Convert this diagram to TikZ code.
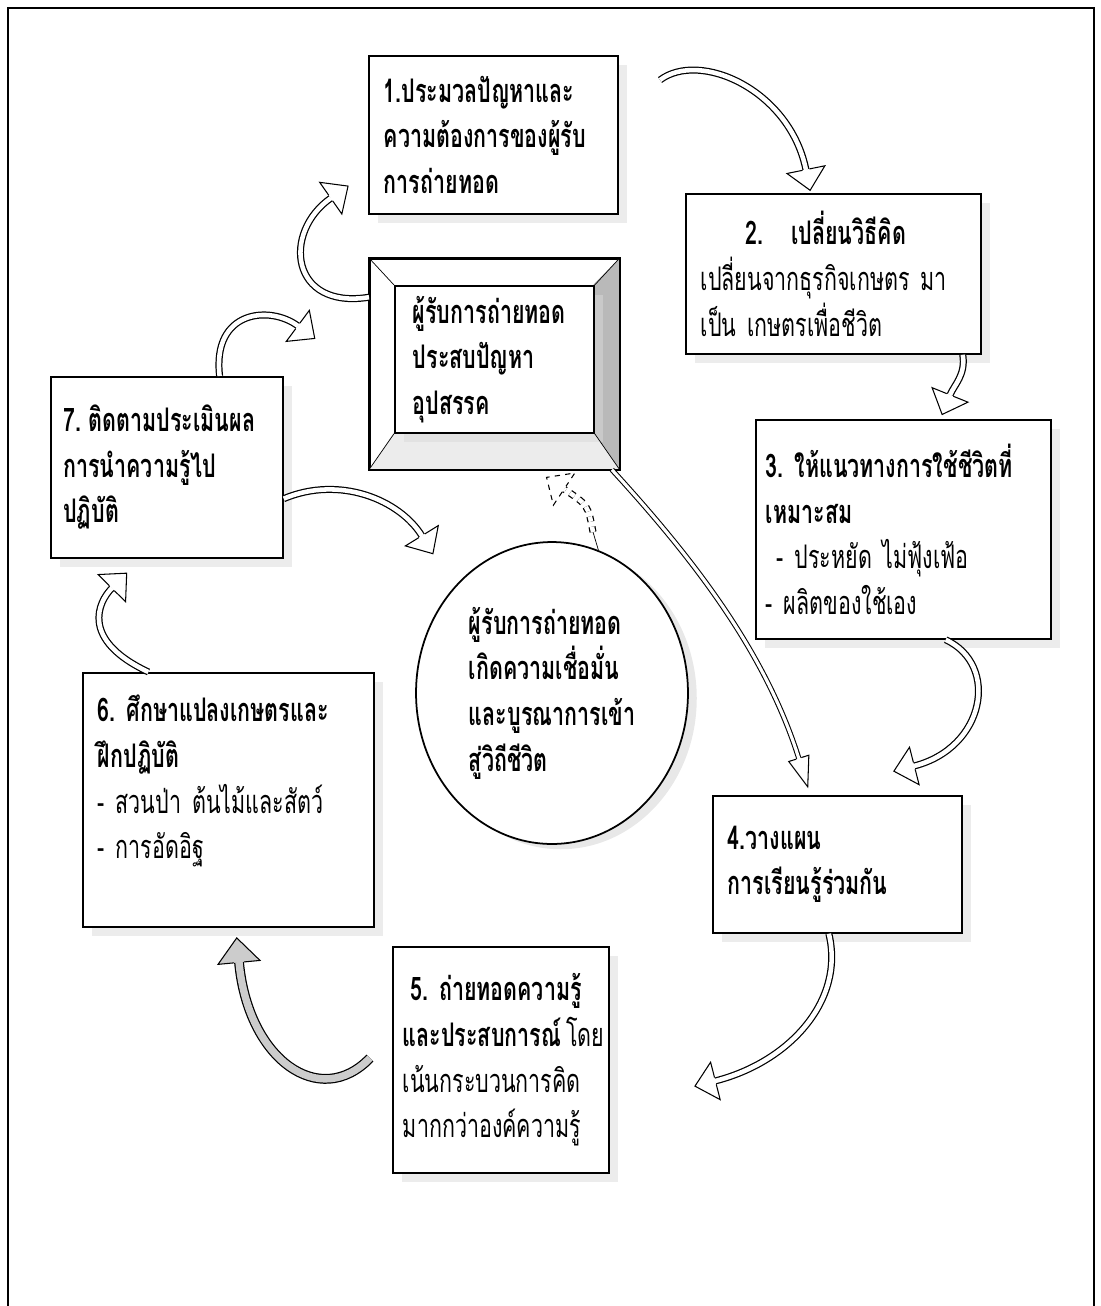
\documentclass[tikz,border=0pt]{standalone}
\usepackage{fontspec}
\newfontfamily\thaifont[Script=Thai,FakeStretch=0.66]{Loma}
\usetikzlibrary{shapes.geometric,shadows,decorations.markings}

\tikzset{
  box/.style={draw, line width=1pt, fill=white, anchor=north west,
    inner xsep=0.3cm, inner ysep=0pt, align=left,
    font=\thaifont\fontsize{18.5pt}{26pt}\selectfont,
    drop shadow={shadow xshift=5pt, shadow yshift=-5pt, fill=black!15}},
  boldbox/.style={box, font=\thaifont\fontsize{18.5pt}{26pt}\selectfont\bfseries},
  blockarrow/.style={line width=4pt,
    postaction={draw=#1, line width=2.6pt},
    postaction={decorate, decoration={markings,
      mark=at position 0.998 with {
        \fill[#1] (0pt,11pt) -- (12pt,0pt) -- (0pt,-11pt) -- cycle;
        \draw[line width=0.6pt] (0pt,2pt) -- (0pt,11pt) -- (12pt,0pt) -- (0pt,-11pt) -- (0pt,-2pt);}}}},
  blockarrow/.default=white,
  widearrow/.style={line width=5.6pt,
    postaction={draw=gray!40, line width=4.2pt},
    postaction={decorate, decoration={markings,
      mark=at position 0.998 with {
        \fill[gray!40] (0pt,12pt) -- (14pt,0pt) -- (0pt,-12pt) -- cycle;
        \draw[line width=0.6pt] (0pt,2.8pt) -- (0pt,12pt) -- (14pt,0pt) -- (0pt,-12pt) -- (0pt,-2.8pt);}}}},
  slimarrow/.style={line width=3pt,
    postaction={draw=white, line width=1.8pt},
    postaction={decorate, decoration={markings,
      mark=at position 0.998 with {
        \fill[white] (0pt,6pt) -- (17pt,0pt) -- (0pt,-6pt) -- cycle;
        \draw[line width=0.6pt] (0pt,1.5pt) -- (0pt,6pt) -- (17pt,0pt) -- (0pt,-6pt) -- (0pt,-1.5pt);}}}}
}

\begin{document}
\begin{tikzpicture}[x=0.02cm, y=-0.02cm]

\useasboundingbox (0,0) rectangle (1101,1306);
\draw[line width=1.2pt] (8,1306) -- (8,8) -- (1094,8) -- (1094,1306);

% steps
\node[boldbox, minimum width=4.98cm, text width=4.38cm, minimum height=3.16cm] (b1) at (368,55)
  {1.ประมวลปัญหาและ\\ ความต้องการของผู้รับ\\ การถ่ายทอด};
\node[box, minimum width=5.9cm, text width=5.3cm, minimum height=3.2cm] (b2) at (685,193)
  {\hspace*{0.9cm}\textbf{2.\hspace{0.55cm}เปลี่ยนวิธีคิด}\\ เปลี่ยนจากธุรกิจเกษตร~มา\\ เป็น~เกษตรเพื่อชีวิต};
\node[box, inner xsep=0.2cm, minimum width=5.9cm, text width=5.5cm, minimum height=4.38cm] (b3) at (755,419)
  {\textbf{3.~ให้แนวทางการใช้ชีวิตที่}\\ \textbf{เหมาะสม}\\ \ - ประหยัด~ไม่ฟุ้งเฟ้อ\\ - ผลิตของใช้เอง};
\node[boldbox, minimum width=4.98cm, text width=4.38cm, minimum height=2.74cm] (b4) at (712,795)
  {4.วางแผน\\ การเรียนรู้ร่วมกัน};
\node[box, inner xsep=0.2cm, minimum width=4.32cm, text width=3.92cm, minimum height=4.52cm] (b5) at (392,946)
  {\hspace*{0.15cm}\textbf{5.~ถ่ายทอดความรู้}\\ \mbox{\textbf{และประสบการณ์}\hspace{0.1cm}โดย}\\ เน้นกระบวนการคิด\\ มากกว่าองค์ความรู้};
\node[box, minimum width=5.82cm, text width=5.22cm, minimum height=5.08cm] (b6) at (82,672)
  {\textbf{6.~ศึกษาแปลงเกษตรและ}\\ \textbf{ฝึกปฏิบัติ}\\ - สวนป่า~ต้นไม้และสัตว์\\ - การอัดอิฐ\\ ~};
\node[boldbox, inner xsep=0.25cm, minimum width=4.64cm, text width=4.14cm, minimum height=3.62cm] (b7) at (50,376)
  {7.\hspace{0.15cm}ติดตามประเมินผล\\ การนำความรู้ไป\\ ปฏิบัติ};

% problem box with bevel
\node[draw, line width=1pt, fill=white, anchor=north west, minimum width=4.98cm, minimum height=4.2cm] (prob) at (369,258) {};
\fill[gray!55] (prob.north east) -- (593,285) -- (593,432) -- (prob.south east) -- cycle;
\fill[gray!15] (prob.south west) -- (394,432) -- (593,432) -- (prob.south east) -- cycle;
\node[boldbox, drop shadow={opacity=0}, inner xsep=0.36cm, minimum width=3.98cm, text width=3.26cm, minimum height=2.94cm] (probin) at (394,285)
  {ผู้รับการถ่ายทอด\\ ประสบปัญหา\\ อุปสรรค};
\draw[line width=1pt] (prob.north west) rectangle (prob.south east);
\foreach \c in {north west, north east, south west, south east}
  \draw (prob.\c) -- (probin.\c);

% result
\node[ellipse, draw, line width=1pt, fill=white, inner sep=0pt, align=left,
  minimum width=5.44cm, minimum height=6.04cm,
  font=\thaifont\fontsize{18.5pt}{26pt}\selectfont\bfseries,
  drop shadow={shadow xshift=5pt, shadow yshift=-3pt, fill=black!18}] (circ) at (552,693)
  {ผู้รับการถ่ายทอด\\ เกิดความเชื่อมั่น\\ และบูรณาการเข้า\\ สู่วิถีชีวิต};

% arrows
\coordinate (t1) at (660,80);
\coordinate (t6) at (370,1058);
\coordinate (t11) at (593,532);
\coordinate (h1) at (806,170);
\coordinate (h2) at (950,395);
\coordinate (h3) at (914,766);
\coordinate (h4) at (799,759);
\coordinate (h5) at (715,1081);
\coordinate (h6) at (239,962);
\coordinate (h7) at (112,588);
\coordinate (h8) at (422,536);
\coordinate (h9) at (298,326);
\coordinate (h10) at (331,198);
\coordinate (h11) at (564,489);

\draw[blockarrow] (t1) .. controls (700,50) and (790,90) .. (h1);
\draw[blockarrow] (b2.-32) .. controls (966,375) and (954,385) .. (h2);
\draw[blockarrow] (b3.-69) .. controls (1000,665) and (985,748) .. (h3);
\draw[slimarrow] (prob.-42) .. controls (690,555) and (765,650) .. (h4);
\draw[blockarrow] (b4.-97) .. controls (845,1000) and (790,1062) .. (h5);
\draw[widearrow] (t6) .. controls (320,1110) and (248,1060) .. (h6);
\draw[blockarrow] (b6.122) .. controls (80,640) and (98,602) .. (h7);
\draw[blockarrow] (b7.-15) .. controls (340,475) and (400,500) .. (h8);
\draw[blockarrow] (b7.60) .. controls (212,310) and (270,305) .. (h9);
\draw[blockarrow] (prob.152) .. controls (290,310) and (282,232) .. (h10);
\draw (circ.72) -- (t11);
\draw[blockarrow, dashed] (t11) .. controls (588,505) .. (h11);

\end{tikzpicture}
\end{document}
